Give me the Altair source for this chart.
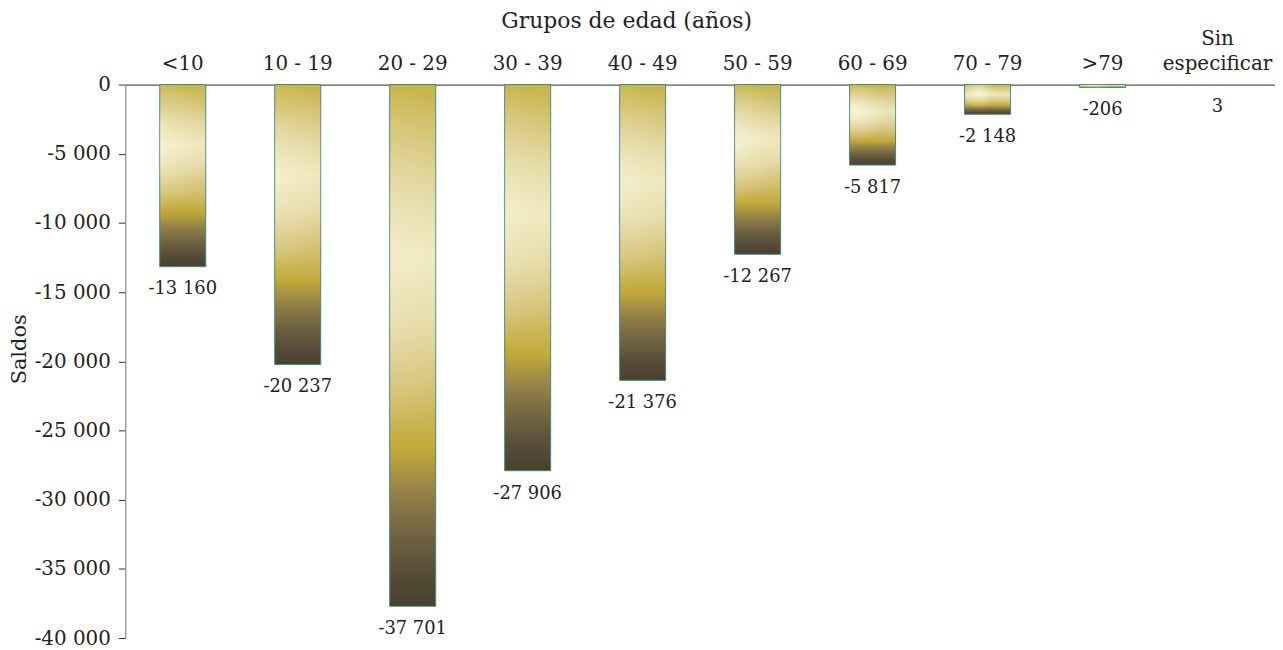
import altair as alt
import pandas as pd

groups = ["<10", "10 - 19", "20 - 29", "30 - 39", "40 - 49", "50 - 59",
          "60 - 69", "70 - 79", ">79", "Sin especificar"]
values = [-13160, -20237, -37701, -27906, -21376, -12267, -5817, -2148, -206, 3]
y_ticks = [0, -5000, -10000, -15000, -20000, -25000, -30000, -35000, -40000]


def fmt(v):
    return f"{v:,}".replace(",", " ")


df = pd.DataFrame({
    "grupo": groups,
    "saldo": values,
    "etiqueta": [fmt(v) for v in values],
})
df["base"] = df["saldo"].clip(upper=0)

FONT = "DejaVu Serif"

bar_fill = {
    "gradient": "linear",
    "x1": 0, "y1": 0, "x2": 0, "y2": 1,
    "stops": [
        {"offset": 0.0, "color": "#c8b449"},
        {"offset": 0.12, "color": "#d6c67a"},
        {"offset": 0.24, "color": "#e4d9a2"},
        {"offset": 0.33, "color": "#ece5b9"},
        {"offset": 0.45, "color": "#e3d7a0"},
        {"offset": 0.58, "color": "#d4c173"},
        {"offset": 0.7, "color": "#c2a939"},
        {"offset": 0.78, "color": "#958247"},
        {"offset": 0.87, "color": "#6e6141"},
        {"offset": 0.94, "color": "#564c37"},
        {"offset": 1.0, "color": "#48402f"},
    ],
}

glow_fill = {
    "gradient": "radial",
    "x1": 0.3, "y1": 0.33, "r1": 0,
    "x2": 0.3, "y2": 0.33, "r2": 0.38,
    "stops": [
        {"offset": 0.0, "color": "rgba(255,253,236,0.6)"},
        {"offset": 0.5, "color": "rgba(255,253,236,0.25)"},
        {"offset": 1.0, "color": "rgba(255,253,236,0)"},
    ],
}

x_enc = alt.X(
    "grupo:N", sort=groups,
    scale=alt.Scale(paddingInner=0.6, paddingOuter=0.3),
    axis=alt.Axis(
        orient="top", title="Grupos de edad (años)", ticks=False,
        labelAngle=0, labelFont=FONT, labelFontSize=20, labelColor="#222",
        labelPadding={"condition": {"test": "datum.value == 'Sin especificar'", "value": 36},
                      "value": 11},
        labelLineHeight=25,
        labelExpr="datum.value == 'Sin especificar' ? ['Sin', 'especificar'] : datum.label",
        domainColor="#555", domainWidth=1.2,
        titleFont=FONT, titleFontSize=22, titleFontWeight="normal", titleColor="#222",
        titleAlign="center", titleX=504, titleY=-57, titleBaseline="alphabetic",
    ),
)

y_axis = alt.Axis(
    values=y_ticks, title="Saldos", grid=False,
    labelFont=FONT, labelFontSize=20, labelColor="#222", labelPadding=8,
    labelExpr="(datum.value < 0 ? '-' : '') + replace(format(abs(datum.value), ','), regexp(',', 'g'), ' ')",
    tickSize=7, tickColor="#333", domainColor="#888", domainWidth=1.2,
    titleFont=FONT, titleFontSize=21, titleFontWeight="normal", titleColor="#222",
    titleX=-100, titleY=266, titleBaseline="alphabetic",
)

y_scale = alt.Scale(domain=[-40000, 0], nice=False)

bars = alt.Chart(df).mark_bar(
    fill=bar_fill, stroke="#3c8c78", strokeWidth=1
).encode(
    x=x_enc,
    y=alt.Y("saldo:Q", scale=y_scale, axis=y_axis),
    strokeOpacity=alt.condition("datum.saldo > 0", alt.value(0), alt.value(1)),
)

glow = alt.Chart(df).mark_bar(fill=glow_fill, strokeWidth=0).encode(
    x=x_enc,
    y=alt.Y("saldo:Q", scale=y_scale, axis=y_axis),
)

labels = alt.Chart(df).mark_text(
    baseline="top", dy=14, font=FONT, fontSize=18, color="#222"
).encode(
    x=x_enc,
    y=alt.Y("base:Q", scale=y_scale, axis=y_axis),
    text="etiqueta:N",
)

chart = alt.layer(bars, glow, labels).properties(
    width=1157, height=557,
    padding={"left": 118, "top": 75, "right": 0, "bottom": 10},
    autosize="none",
).configure_view(stroke=None)

chart.save("out.html", embed_options={"renderer": "svg", "actions": False})
